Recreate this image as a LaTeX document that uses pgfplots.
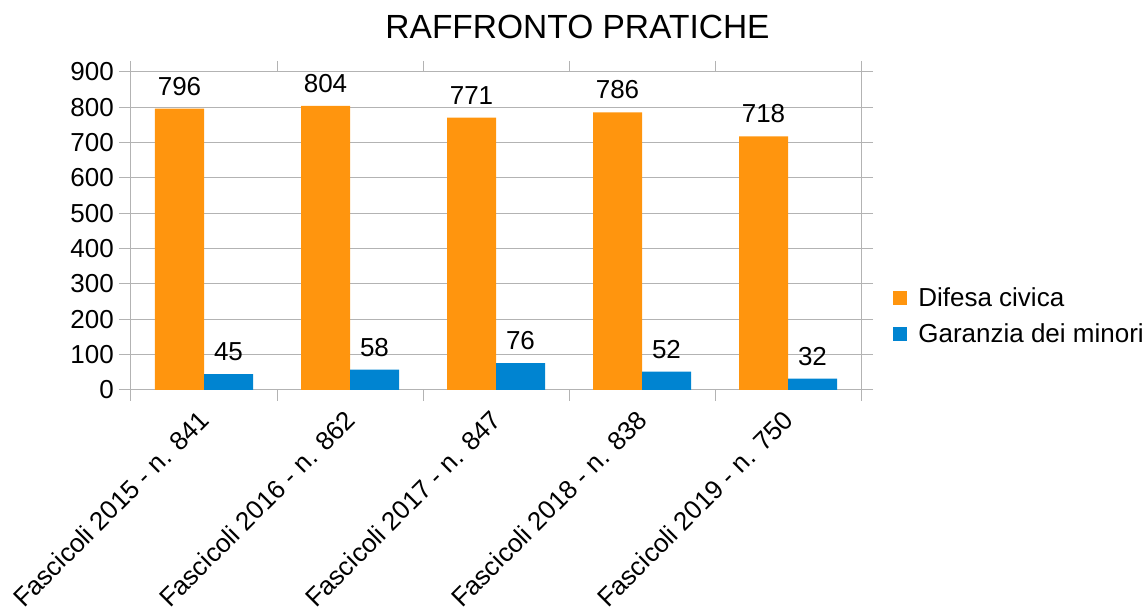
\documentclass[border=0pt]{standalone}
\usepackage{pgfplots}
\pgfplotsset{compat=1.18}
\usepackage{fontspec}
\setmainfont{Liberation Sans}
\definecolor{cOrange}{HTML}{FF950E}
\definecolor{cBlue}{HTML}{0084D1}
\definecolor{cGrid}{HTML}{B3B3B3}
\begin{document}
\begin{tikzpicture}
\useasboundingbox (0,0) rectangle (1144pt,610pt);
\node[anchor=base] at (577.5pt,571pt) {\fontsize{33.5}{38}\selectfont RAFFRONTO PRATICHE};
\begin{axis}[
  at={(131pt,220pt)}, anchor=south west,
  scale only axis, width=730pt, height=318pt,
  xmin=-0.5, xmax=4.5, ymin=0, ymax=900,
  ytick={0,100,...,900},
  xtick={0,1,2,3,4},
  xticklabels={Fascicoli 2015 - n. 841,Fascicoli 2016 - n. 862,Fascicoli 2017 - n. 847,Fascicoli 2018 - n. 838,Fascicoli 2019 - n. 750},
  minor xtick={-0.5,0.5,...,4.5},
  major x tick style={draw=none},
  tick align=outside,
  major tick length=12pt,
  minor tick length=11pt,
  tick style={cGrid, line width=1pt},
  axis line style={cGrid, line width=1pt},
  ymajorgrids, grid style={cGrid, line width=1pt},
  /pgf/number format/assume math mode=true,
  ticklabel style={font=\fontsize{26}{30}\selectfont},
  xticklabel style={xshift=-6.5pt, yshift=-6.5pt, rotate=45, anchor=north east, inner sep=0pt},
  yticklabel style={inner sep=0pt, xshift=-5pt},
  ybar=0pt, bar width=49pt,
  nodes near coords,
  every node near coord/.append style={font=\fontsize{26}{30}\selectfont, black, inner sep=0pt, yshift=13pt},
  legend style={at={(1.044,0.233)}, anchor=west, draw=none, fill=none,
    font=\fontsize{26}{30}\selectfont, row sep=12pt, inner sep=0pt,
    /tikz/every odd column/.append style={column sep=9pt}},
  legend cell align=left,
  legend image code/.code={\fill[#1] (0pt,-7pt) rectangle (14pt,7pt);},
]
\addplot[fill=cOrange, draw=none] coordinates {(0,796) (1,804) (2,771) (3,786) (4,718)};
\addplot[fill=cBlue, draw=none] coordinates {(0,45) (1,58) (2,76) (3,52) (4,32)};
\legend{Difesa civica, Garanzia dei minori}
\end{axis}
\end{tikzpicture}
\end{document}
